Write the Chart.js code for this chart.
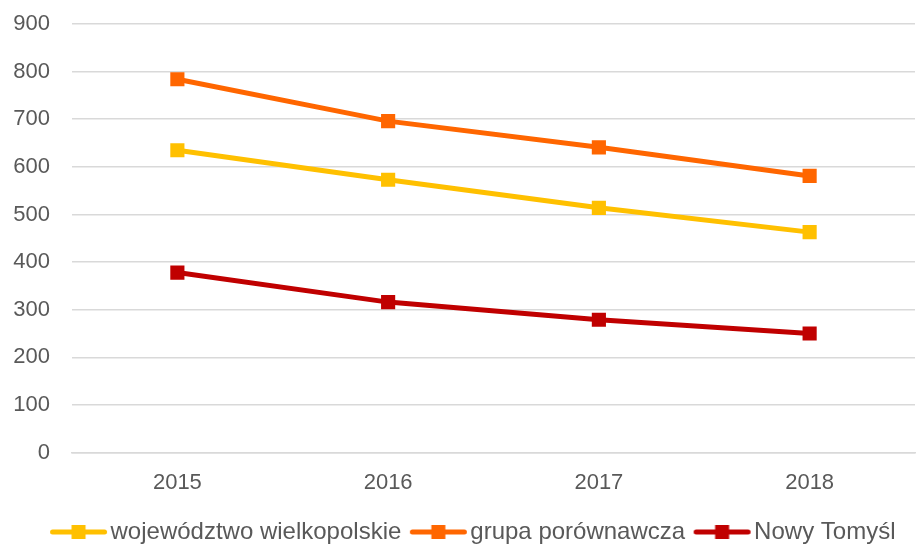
<!DOCTYPE html>
<html>
<head>
<meta charset="utf-8">
<script src="https://cdn.jsdelivr.net/npm/chart.js@4"></script>
<style>
  html, body { margin: 0; padding: 0; background: #fff; overflow: hidden; }
  #wrap { width: 917px; height: 544px; overflow: hidden; }
  canvas { display: block; }
</style>
</head>
<body>
<div id="wrap"><canvas id="chart" width="925" height="554"></canvas></div>
<script>
const years = ["2015", "2016", "2017", "2018"];
const wielkopolskie = [635, 573, 514, 463];
const grupa = [784, 696, 641, 581];
const nowyTomysl = [378, 316, 279, 250];
const yTicks = [0, 100, 200, 300, 400, 500, 600, 700, 800, 900];

const colors = ["#FFC000", "#FF6600", "#C00000"];
const names = ["województwo wielkopolskie", "grupa porównawcza", "Nowy Tomyśl"];

// legend marker: line with a square; image is centred on the legend box,
// so the marker sits a bit right of centre to end just before the text
function legendMarker(color) {
  const c = document.createElement("canvas");
  c.width = 70;
  c.height = 16;
  const m = 10.5;
  const g = c.getContext("2d");
  g.strokeStyle = color;
  g.lineWidth = 5;
  g.lineCap = "round";
  g.beginPath();
  g.moveTo(m + 3, 8);
  g.lineTo(m + 55, 8);
  g.stroke();
  g.fillStyle = color;
  g.fillRect(m + 22, 1, 14, 14);
  return c;
}

const series = [wielkopolskie, grupa, nowyTomysl];
const datasets = series.map((data, i) => ({
  label: names[i],
  data,
  borderColor: colors[i],
  backgroundColor: colors[i],
  borderWidth: 5,
  pointStyle: "rect",
  pointRadius: 10,
  pointHoverRadius: 10,
  pointBorderWidth: 0,
  tension: 0,
  legendImg: legendMarker(colors[i]),
}));

// canvas is wider than the visible window, nudge legend to the window centre
const shiftLegend = {
  id: "shiftLegend",
  afterLayout(chart) {
    chart.legend.left += 10;
    chart.legend.right += 10;
  },
};

new Chart(document.getElementById("chart"), {
  type: "line",
  data: { labels: years, datasets },
  plugins: [shiftLegend],
  options: {
    responsive: false,
    animation: false,
    layout: { padding: { top: 24, right: 0, left: 0, bottom: 0 } },
    plugins: {
      tooltip: { enabled: false },
      legend: {
        position: "bottom",
        labels: {
          usePointStyle: true,
          pointStyleWidth: 49,
          padding: 8,
          color: "#595959",
          font: { family: "Liberation Sans", size: 24 },
          generateLabels(chart) {
            return chart.data.datasets.map((ds, i) => ({
              text: ds.label,
              pointStyle: ds.legendImg,
              fillStyle: ds.borderColor,
              strokeStyle: ds.borderColor,
              lineWidth: 0,
              fontColor: "#595959",
              datasetIndex: i,
            }));
          },
        },
      },
    },
    scales: {
      x: {
        offset: true,
        grid: { display: false },
        border: { color: "#D9D9D9", width: 1.5 },
        ticks: {
          color: "#595959",
          padding: 9,
          font: { family: "Liberation Sans", size: 22 },
        },
        afterFit(scale) {
          scale.height += 7;
          scale.paddingLeft = 0;
          scale.paddingRight = 0;
        },
      },
      y: {
        min: 0,
        max: 900,
        afterBuildTicks(scale) {
          scale.ticks = yTicks.map((v) => ({ value: v }));
        },
        afterFit(scale) {
          scale.width = 72;
          scale.paddingTop = 0;
          scale.paddingBottom = 0;
        },
        grid: { color: "#D9D9D9", lineWidth: 1.5, drawTicks: false },
        border: { display: false },
        ticks: {
          color: "#595959",
          padding: 22,
          font: { family: "Liberation Sans", size: 22 },
        },
      },
    },
  },
});
</script>
</body>
</html>
